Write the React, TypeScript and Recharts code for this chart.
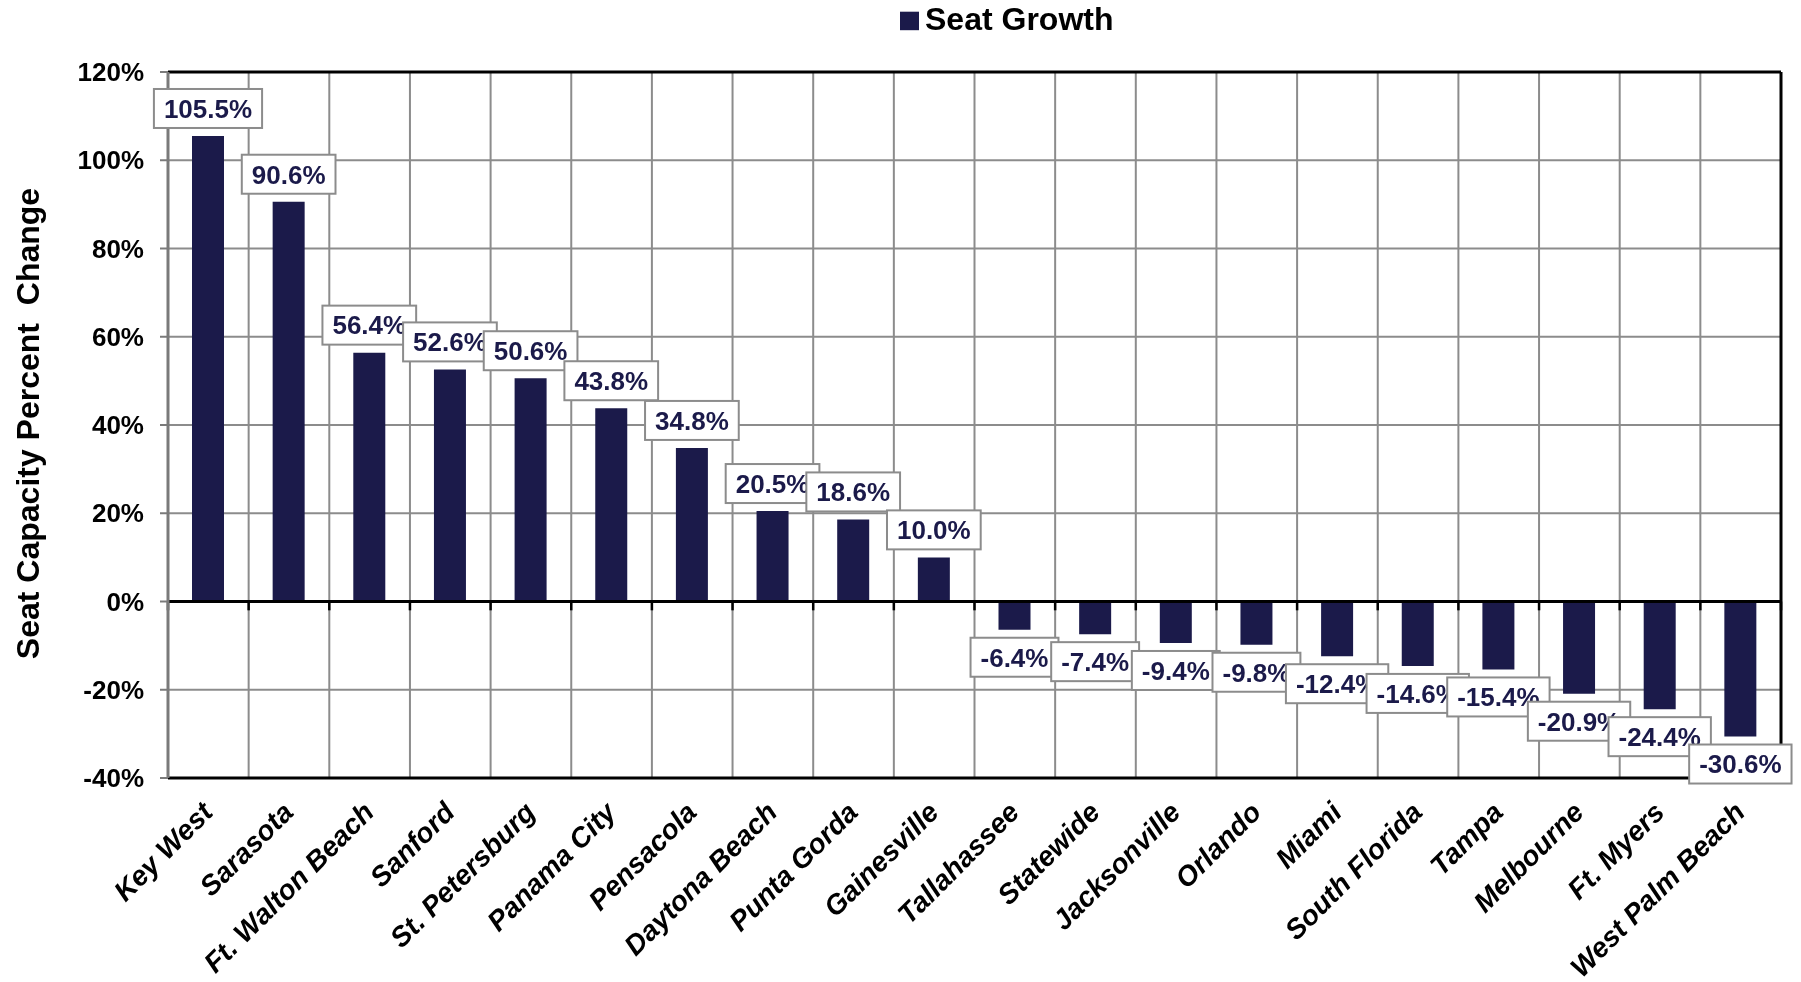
import React from "react";
import {
  BarChart,
  Bar,
  XAxis,
  YAxis,
  CartesianGrid,
  ReferenceLine,
  LabelList,
  Legend,
} from "recharts";

const categories = [
  "Key West",
  "Sarasota",
  "Ft. Walton Beach",
  "Sanford",
  "St. Petersburg",
  "Panama City",
  "Pensacola",
  "Daytona Beach",
  "Punta Gorda",
  "Gainesville",
  "Tallahassee",
  "Statewide",
  "Jacksonville",
  "Orlando",
  "Miami",
  "South Florida",
  "Tampa",
  "Melbourne",
  "Ft. Myers",
  "West Palm Beach",
];

const seatGrowth = [
  105.5, 90.6, 56.4, 52.6, 50.6, 43.8, 34.8, 20.5, 18.6, 10.0, -6.4, -7.4, -9.4,
  -9.8, -12.4, -14.6, -15.4, -20.9, -24.4, -30.6,
];

const yTicks = [-40, -20, 0, 20, 40, 60, 80, 100, 120];
const seriesName = "Seat Growth";
const yTitle = "Seat Capacity Percent  Change";

const boundaries = [...categories.map((_, i) => i), categories.length];

const data = categories.map((name, i) => ({
  name,
  value: seatGrowth[i],
  pos: i + 0.5,
}));

const FONT = '"Liberation Sans", Arial, Helvetica, sans-serif';
const NAVY = "#1b1a4a";
const GRID = "#8c8c8c";

const charW: Record<string, number> = {
  "0": 0.556, "1": 0.556, "2": 0.556, "3": 0.556, "4": 0.556,
  "5": 0.556, "6": 0.556, "7": 0.556, "8": 0.556, "9": 0.556,
  ".": 0.278, "%": 0.889, "-": 0.333,
};
const textWidth = (s: string, size: number) =>
  s.split("").reduce((a, c) => a + (charW[c] ?? 0.556), 0) * size;

const fmt = (v: number) => `${v.toFixed(1)}%`;

const BoxLabel = (props: any) => {
  const { x, y, width, height, value } = props;
  const v = Number(value);
  const label = fmt(v);
  const fs = 26;
  const bw = textWidth(label, fs) + 20;
  const bh = 39;
  const top = Math.min(y, y + height);
  const bottom = Math.max(y, y + height);
  const cx = x + width / 2;
  const boxTop = v >= 0 ? top - 8 - bh : bottom + 8;
  return (
    <g>
      <rect
        x={cx - bw / 2}
        y={boxTop}
        width={bw}
        height={bh}
        fill="#ffffff"
        stroke="#8c8c8c"
        strokeWidth={2}
      />
      <text
        x={cx}
        y={boxTop + bh / 2 + 9.3}
        textAnchor="middle"
        fontFamily={FONT}
        fontSize={fs}
        fontWeight="bold"
        fill={NAVY}
      >
        {label}
      </text>
    </g>
  );
};

const XTick = (props: any) => {
  const { x, y, payload } = props;
  const ax = x + 6;
  const ay = y + 36;
  return (
    <text
      x={ax}
      y={ay}
      transform={`rotate(-45, ${ax}, ${ay})`}
      textAnchor="end"
      fontFamily={FONT}
      fontSize={28}
      fontWeight="bold"
      fontStyle="italic"
      fill="#000"
    >
      {payload.value}
    </text>
  );
};

const YTitle = (props: any) => {
  const { viewBox } = props;
  const cy = viewBox.y + viewBox.height / 2 - 1.5;
  const tx = 31;
  return (
    <text
      x={tx}
      y={cy}
      transform={`rotate(-90, ${tx}, ${cy})`}
      textAnchor="middle"
      fontFamily={FONT}
      fontSize={32}
      fontWeight="bold"
      fill="#000"
      style={{ whiteSpace: "pre" }}
    >
      {yTitle}
    </text>
  );
};

const LegendContent = (props: any) => {
  const name = props?.payload?.[0]?.value ?? seriesName;
  return (
    <svg width={240} height={44} style={{ display: "block" }}>
      <rect x={0} y={11.7} width={19} height={18.5} fill={NAVY} />
      <text
        x={25}
        y={30}
        fontFamily={FONT}
        fontSize={32}
        fontWeight="bold"
        fill="#000"
      >
        {name}
      </text>
    </svg>
  );
};

export default function App() {
  return (
    <div
      style={{
        position: "fixed",
        left: 8,
        top: 0,
        width: 1785,
        height: 982,
        overflow: "hidden",
      }}
    >
      <BarChart
        width={1785}
        height={982}
        data={data}
        margin={{ top: 72, right: 12, left: 0, bottom: 24 }}
        barSize={32}
      >
        <XAxis
          xAxisId="cat"
          dataKey="name"
          type="category"
          height={180}
          axisLine={false}
          tickLine={false}
          tickSize={0}
          tickMargin={0}
          interval={0}
          tick={<XTick />}
        />
        <XAxis
          xAxisId="num"
          dataKey="pos"
          type="number"
          domain={[0, categories.length]}
          ticks={boundaries}
          allowDataOverflow
          hide
        />
        <YAxis
          type="number"
          domain={[-40, 120]}
          ticks={yTicks}
          interval={0}
          width={160}
          allowDataOverflow
          tickFormatter={(v: number) => `${v}%`}
          tick={{
            fontSize: 26,
            fontWeight: "bold",
            fill: "#000",
            fontFamily: FONT,
          }}
          tickSize={8}
          tickMargin={16}
          axisLine={{ stroke: "#7a7a7a", strokeWidth: 3 }}
          tickLine={{ stroke: "#7a7a7a", strokeWidth: 2 }}
          label={<YTitle />}
        />
        <CartesianGrid
          xAxisId="num"
          stroke={GRID}
          strokeWidth={2}
          vertical
          horizontal
        />
        <Legend
          verticalAlign="middle"
          align="center"
          layout="horizontal"
          wrapperStyle={{ top: 0, left: 892, width: 240 }}
          content={<LegendContent />}
        />
        <Bar
          xAxisId="cat"
          dataKey="value"
          name={seriesName}
          fill={NAVY}
          isAnimationActive={false}
        >
          <LabelList dataKey="value" content={<BoxLabel />} />
        </Bar>
        <ReferenceLine xAxisId="num" y={0} stroke="#000" strokeWidth={3} />
        <ReferenceLine xAxisId="num" y={120} stroke="#000" strokeWidth={3} />
        <ReferenceLine xAxisId="num" y={-40} stroke="#000" strokeWidth={3} />
        <ReferenceLine
          xAxisId="num"
          x={categories.length}
          stroke="#000"
          strokeWidth={3}
        />
        {boundaries.map((b) => (
          <ReferenceLine
            key={`t${b}`}
            xAxisId="num"
            segment={[
              { x: b, y: 0 },
              { x: b, y: -2 },
            ]}
            stroke="#000"
            strokeWidth={2.5}
          />
        ))}
      </BarChart>
    </div>
  );
}
